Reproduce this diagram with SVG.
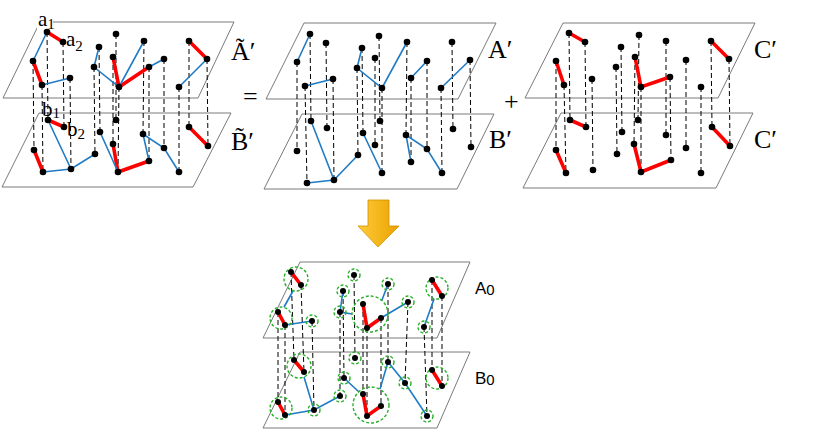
<svg xmlns="http://www.w3.org/2000/svg" width="830" height="431" viewBox="0 0 830 431">
<defs>
<style>
.pl{fill:none;stroke:#7a7a7a;stroke-width:1}
.ds{fill:none;stroke:#000;stroke-width:1;stroke-dasharray:5 3}
.r{stroke:#ff0000;stroke-width:3.6;fill:none}
.b{stroke:#1f7bc6;stroke-width:1.6;fill:none}
.d{fill:#000}
.g{fill:none;stroke:#28b028;stroke-width:1.4;stroke-dasharray:3 2}
.lb{font-family:"Liberation Serif","DejaVu Serif",serif;font-size:26px;fill:#000}
.sm{font-family:"Liberation Serif","DejaVu Serif",serif;font-size:21px;fill:#000}
.ss{font-family:"Liberation Sans",Arial,sans-serif;font-size:17px;fill:#000}
</style>
<linearGradient id="og" x1="0" y1="0" x2="1" y2="0">
<stop offset="0" stop-color="#ffcb3a"/>
<stop offset="1" stop-color="#e9a200"/>
</linearGradient>
</defs>
<rect width="830" height="431" fill="#fff"/>

<!-- planes -->
<g id="plane-At">
<polygon class="pl" points="40,22 234,22 198,98 3,98"/>
<rect x="37" y="12" width="16" height="18" fill="#fff"/>
<text class="lb" x="231" y="60">Ã′</text>
</g>
<g id="plane-Bt">
<polygon class="pl" points="39,113 231,113 193,187 2,187"/>
<text class="lb" x="231" y="150">B&#x303;′</text>
</g>
<g id="plane-A1">
<polygon class="pl" points="304,23 496,23 458,99 266,99"/>
<text class="lb" x="488" y="58">A′</text>
</g>
<g id="plane-B1">
<polygon class="pl" points="302,114 494,114 457,189 264,189"/>
<text class="lb" x="489" y="148">B′</text>
</g>
<g id="plane-C1">
<polygon class="pl" points="563,23 755,23 718,98 525,98"/>
<text class="lb" x="754" y="58">C′</text>
</g>
<g id="plane-C2">
<polygon class="pl" points="561,113 753,113 716,188 523,188"/>
<text class="lb" x="754" y="148">C′</text>
</g>
<g id="plane-A0">
<polygon class="pl" points="300,262 470,262 437,338 263,338"/>
<text class="ss" x="475" y="294">A<tspan font-size="15" dy="1">0</tspan></text>
</g>
<g id="plane-B0">
<polygon class="pl" points="300,352 470,352 437,428 263,428"/>
<text class="ss" x="475" y="384">B<tspan font-size="15" dy="1">0</tspan></text>
</g>

<g id="ops">
<text class="lb" x="243" y="105" font-size="30">=</text>
<text class="lb" x="504" y="110" font-size="36">+</text>
</g>

<g id="labels-ab">
<text class="sm" x="38" y="26">a<tspan font-size="15" dy="3">1</tspan></text>
<text class="sm" x="66" y="46">a<tspan font-size="15" dy="5">2</tspan></text>
<text class="sm" x="42" y="116">b<tspan font-size="15" dy="2">1</tspan></text>
<text class="sm" x="67" y="136">b<tspan font-size="15" dy="3">2</tspan></text>
</g>

<g id="arrow">
<polygon points="368,200 389,200 389,226 399,226 378,247 358,226 368,226" fill="url(#og)" stroke="#d09000" stroke-width="0.8"/>
</g>

<g id="connectors">
<path class="ds" d="M47,32L48,120M63,42L64,127M33,61L34,150M42,85L43,172M70,78L71,169M116,34L116,120M99,47L100,132M94,67L95,154M113,57L113,144M119,87L118,172M144,41L143,134M149,67L149,161M164,59L164,148M189,41L189,127M207,59L208,146M179,87L179,172"/>
<path class="ds" d="M310,34L311,121M326,43L327,128M297,62L297,151M305,86L307,183M333,79L334,180M379,36L380,121M362,48L363,133M357,68L358,155M375,58L375,145M382,88L382,173M407,42L406,135M411,78L411,162M427,61L427,149M452,42L453,129M470,60L471,147M441,88L442,173"/>
<path class="ds" d="M569,33L570,120M585,42L586,127M556,61L556,150M564,85L566,173M592,79L593,170M639,35L638,120M621,47L622,132M616,67L617,154M635,57L634,144M641,87L641,172M666,41L666,135M670,77L671,160M686,60L686,148M711,41L712,127M729,59L730,146M701,87L701,173"/>
<path class="ds" d="M291,272L294,360M301,285L304,372M278,312L278,402M285,325L285,415M312,321L314,410M354,275L355,358M343,291L344,378M340,312L340,396M363,304L363,394M367,328L367,416M388,284L388,362M381,318L381,406M408,302L405,383M432,280L432,370M442,296L442,386M424,327L427,416"/>
<path class="r" d="M47,32L63,42M33,61L42,85M113,57L119,87L149,67M189,41L207,59"/>
<path class="r" d="M48,120L64,127M34,150L43,172M113,144L118,172L149,161M189,127L208,146"/>
<path class="r" d="M569,33L585,42M556,61L564,85M635,57L641,87L670,77M711,41L729,59"/>
<path class="r" d="M570,120L586,127M556,150L566,173M634,144L641,172L671,160M712,127L730,146"/>
<path class="r" d="M291,272L301,285M278,312L285,325M363,304L367,328L381,318M432,280L442,296"/>
<path class="r" d="M294,360L304,372M278,402L285,415M363,394L367,416L381,406M432,370L442,386"/>
<path class="b" d="M47,32L33,61M42,85L70,78M99,47L94,67L119,87L144,41M149,67L164,59M207,59L179,87"/>
<path class="b" d="M48,120L71,169M43,172L71,169L95,154M100,132L118,172M149,161L143,134L164,148L179,172"/>
<path class="b" d="M310,34L297,62M305,86L333,79M362,48L357,68L382,88L407,42M411,78L427,61M470,60L441,88"/>
<path class="b" d="M311,121L334,180M307,183L334,180L358,155M363,133L382,173M411,162L406,135L427,149L442,173"/>
<path class="b" d="M293,291L284,307M285,325L312,321M343,291L340,312L352,314M382,300L388,284M381,318L408,302M434,299L424,327"/>
<path class="b" d="M304,377L314,410M285,415L314,410L340,396M344,378L359,392M380,389L388,362L405,383L427,416"/>
</g>

<g id="nodes-At">
<g id="LT1"><circle class="d" cx="47" cy="32" r="3.3"/></g>
<g id="LT2"><circle class="d" cx="63" cy="42" r="3.3"/></g>
<g id="LT3"><circle class="d" cx="33" cy="61" r="3.3"/></g>
<g id="LT4"><circle class="d" cx="42" cy="85" r="3.3"/></g>
<g id="LT5"><circle class="d" cx="70" cy="78" r="3.3"/></g>
<g id="LT6"><circle class="d" cx="116" cy="34" r="3.3"/></g>
<g id="LT7"><circle class="d" cx="99" cy="47" r="3.3"/></g>
<g id="LT8"><circle class="d" cx="94" cy="67" r="3.3"/></g>
<g id="LT9"><circle class="d" cx="113" cy="57" r="3.3"/></g>
<g id="LT10"><circle class="d" cx="119" cy="87" r="3.3"/></g>
<g id="LT11"><circle class="d" cx="144" cy="41" r="3.3"/></g>
<g id="LT12"><circle class="d" cx="149" cy="67" r="3.3"/></g>
<g id="LT13"><circle class="d" cx="164" cy="59" r="3.3"/></g>
<g id="LT14"><circle class="d" cx="189" cy="41" r="3.3"/></g>
<g id="LT15"><circle class="d" cx="207" cy="59" r="3.3"/></g>
<g id="LT16"><circle class="d" cx="179" cy="87" r="3.3"/></g>
</g>
<g id="nodes-Bt">
<g id="LB1"><circle class="d" cx="48" cy="120" r="3.3"/></g>
<g id="LB2"><circle class="d" cx="64" cy="127" r="3.3"/></g>
<g id="LB3"><circle class="d" cx="34" cy="150" r="3.3"/></g>
<g id="LB4"><circle class="d" cx="43" cy="172" r="3.3"/></g>
<g id="LB5"><circle class="d" cx="71" cy="169" r="3.3"/></g>
<g id="LB6"><circle class="d" cx="116" cy="120" r="3.3"/></g>
<g id="LB7"><circle class="d" cx="100" cy="132" r="3.3"/></g>
<g id="LB8"><circle class="d" cx="95" cy="154" r="3.3"/></g>
<g id="LB9"><circle class="d" cx="113" cy="144" r="3.3"/></g>
<g id="LB10"><circle class="d" cx="118" cy="172" r="3.3"/></g>
<g id="LB11"><circle class="d" cx="143" cy="134" r="3.3"/></g>
<g id="LB12"><circle class="d" cx="149" cy="161" r="3.3"/></g>
<g id="LB13"><circle class="d" cx="164" cy="148" r="3.3"/></g>
<g id="LB14"><circle class="d" cx="189" cy="127" r="3.3"/></g>
<g id="LB15"><circle class="d" cx="208" cy="146" r="3.3"/></g>
<g id="LB16"><circle class="d" cx="179" cy="172" r="3.3"/></g>
</g>
<g id="nodes-A1">
<g id="MT1"><circle class="d" cx="310" cy="34" r="3.3"/></g>
<g id="MT2"><circle class="d" cx="326" cy="43" r="3.3"/></g>
<g id="MT3"><circle class="d" cx="297" cy="62" r="3.3"/></g>
<g id="MT4"><circle class="d" cx="305" cy="86" r="3.3"/></g>
<g id="MT5"><circle class="d" cx="333" cy="79" r="3.3"/></g>
<g id="MT6"><circle class="d" cx="379" cy="36" r="3.3"/></g>
<g id="MT7"><circle class="d" cx="362" cy="48" r="3.3"/></g>
<g id="MT8"><circle class="d" cx="357" cy="68" r="3.3"/></g>
<g id="MT9"><circle class="d" cx="375" cy="58" r="3.3"/></g>
<g id="MT10"><circle class="d" cx="382" cy="88" r="3.3"/></g>
<g id="MT11"><circle class="d" cx="407" cy="42" r="3.3"/></g>
<g id="MT12"><circle class="d" cx="411" cy="78" r="3.3"/></g>
<g id="MT13"><circle class="d" cx="427" cy="61" r="3.3"/></g>
<g id="MT14"><circle class="d" cx="452" cy="42" r="3.3"/></g>
<g id="MT15"><circle class="d" cx="470" cy="60" r="3.3"/></g>
<g id="MT16"><circle class="d" cx="441" cy="88" r="3.3"/></g>
</g>
<g id="nodes-B1">
<g id="MB1"><circle class="d" cx="311" cy="121" r="3.3"/></g>
<g id="MB2"><circle class="d" cx="327" cy="128" r="3.3"/></g>
<g id="MB3"><circle class="d" cx="297" cy="151" r="3.3"/></g>
<g id="MB4"><circle class="d" cx="307" cy="183" r="3.3"/></g>
<g id="MB5"><circle class="d" cx="334" cy="180" r="3.3"/></g>
<g id="MB6"><circle class="d" cx="380" cy="121" r="3.3"/></g>
<g id="MB7"><circle class="d" cx="363" cy="133" r="3.3"/></g>
<g id="MB8"><circle class="d" cx="358" cy="155" r="3.3"/></g>
<g id="MB9"><circle class="d" cx="375" cy="145" r="3.3"/></g>
<g id="MB10"><circle class="d" cx="382" cy="173" r="3.3"/></g>
<g id="MB11"><circle class="d" cx="406" cy="135" r="3.3"/></g>
<g id="MB12"><circle class="d" cx="411" cy="162" r="3.3"/></g>
<g id="MB13"><circle class="d" cx="427" cy="149" r="3.3"/></g>
<g id="MB14"><circle class="d" cx="453" cy="129" r="3.3"/></g>
<g id="MB15"><circle class="d" cx="471" cy="147" r="3.3"/></g>
<g id="MB16"><circle class="d" cx="442" cy="173" r="3.3"/></g>
</g>
<g id="nodes-C1">
<g id="RT1"><circle class="d" cx="569" cy="33" r="3.3"/></g>
<g id="RT2"><circle class="d" cx="585" cy="42" r="3.3"/></g>
<g id="RT3"><circle class="d" cx="556" cy="61" r="3.3"/></g>
<g id="RT4"><circle class="d" cx="564" cy="85" r="3.3"/></g>
<g id="RT5"><circle class="d" cx="592" cy="79" r="3.3"/></g>
<g id="RT6"><circle class="d" cx="639" cy="35" r="3.3"/></g>
<g id="RT7"><circle class="d" cx="621" cy="47" r="3.3"/></g>
<g id="RT8"><circle class="d" cx="616" cy="67" r="3.3"/></g>
<g id="RT9"><circle class="d" cx="635" cy="57" r="3.3"/></g>
<g id="RT10"><circle class="d" cx="641" cy="87" r="3.3"/></g>
<g id="RT11"><circle class="d" cx="666" cy="41" r="3.3"/></g>
<g id="RT12"><circle class="d" cx="670" cy="77" r="3.3"/></g>
<g id="RT13"><circle class="d" cx="686" cy="60" r="3.3"/></g>
<g id="RT14"><circle class="d" cx="711" cy="41" r="3.3"/></g>
<g id="RT15"><circle class="d" cx="729" cy="59" r="3.3"/></g>
<g id="RT16"><circle class="d" cx="701" cy="87" r="3.3"/></g>
</g>
<g id="nodes-C2">
<g id="RB1"><circle class="d" cx="570" cy="120" r="3.3"/></g>
<g id="RB2"><circle class="d" cx="586" cy="127" r="3.3"/></g>
<g id="RB3"><circle class="d" cx="556" cy="150" r="3.3"/></g>
<g id="RB4"><circle class="d" cx="566" cy="173" r="3.3"/></g>
<g id="RB5"><circle class="d" cx="593" cy="170" r="3.3"/></g>
<g id="RB6"><circle class="d" cx="638" cy="120" r="3.3"/></g>
<g id="RB7"><circle class="d" cx="622" cy="132" r="3.3"/></g>
<g id="RB8"><circle class="d" cx="617" cy="154" r="3.3"/></g>
<g id="RB9"><circle class="d" cx="634" cy="144" r="3.3"/></g>
<g id="RB10"><circle class="d" cx="641" cy="172" r="3.3"/></g>
<g id="RB11"><circle class="d" cx="666" cy="135" r="3.3"/></g>
<g id="RB12"><circle class="d" cx="671" cy="160" r="3.3"/></g>
<g id="RB13"><circle class="d" cx="686" cy="148" r="3.3"/></g>
<g id="RB14"><circle class="d" cx="712" cy="127" r="3.3"/></g>
<g id="RB15"><circle class="d" cx="730" cy="146" r="3.3"/></g>
<g id="RB16"><circle class="d" cx="701" cy="173" r="3.3"/></g>
</g>
<g id="nodes-A0">
<g id="A0-X1"><circle class="g" cx="296" cy="279" r="12"/><circle class="d" cx="291" cy="272" r="3"/><circle class="d" cx="301" cy="285" r="3"/></g>
<g id="A0-X2"><circle class="g" cx="281" cy="318" r="11"/><circle class="d" cx="278" cy="312" r="3"/><circle class="d" cx="285" cy="325" r="3"/></g>
<g id="A0-n5"><circle class="g" cx="312" cy="321" r="6"/><circle class="d" cx="312" cy="321" r="3"/></g>
<g id="A0-n6"><circle class="g" cx="354" cy="275" r="6"/><circle class="d" cx="354" cy="275" r="3"/></g>
<g id="A0-n7"><circle class="g" cx="343" cy="291" r="6"/><circle class="d" cx="343" cy="291" r="3"/></g>
<g id="A0-n8"><circle class="g" cx="340" cy="312" r="6"/><circle class="d" cx="340" cy="312" r="3"/></g>
<g id="A0-X3"><circle class="g" cx="370" cy="314" r="18"/><circle class="d" cx="363" cy="304" r="3"/><circle class="d" cx="367" cy="328" r="3"/><circle class="d" cx="381" cy="318" r="3"/></g>
<g id="A0-n11"><circle class="g" cx="388" cy="284" r="6"/><circle class="d" cx="388" cy="284" r="3"/></g>
<g id="A0-n13"><circle class="g" cx="408" cy="302" r="6"/><circle class="d" cx="408" cy="302" r="3"/></g>
<g id="A0-X4"><circle class="g" cx="437" cy="288" r="11"/><circle class="d" cx="432" cy="280" r="3"/><circle class="d" cx="442" cy="296" r="3"/></g>
<g id="A0-n16"><circle class="g" cx="424" cy="327" r="6"/><circle class="d" cx="424" cy="327" r="3"/></g>
</g>
<g id="nodes-B0">
<g id="B0-Y1"><circle class="g" cx="299" cy="366" r="12"/><circle class="d" cx="294" cy="360" r="3"/><circle class="d" cx="304" cy="372" r="3"/></g>
<g id="B0-Y2"><circle class="g" cx="281" cy="408" r="11"/><circle class="d" cx="278" cy="402" r="3"/><circle class="d" cx="285" cy="415" r="3"/></g>
<g id="B0-n5"><circle class="g" cx="314" cy="410" r="6"/><circle class="d" cx="314" cy="410" r="3"/></g>
<g id="B0-n6"><circle class="g" cx="355" cy="358" r="6"/><circle class="d" cx="355" cy="358" r="3"/></g>
<g id="B0-n7"><circle class="g" cx="344" cy="378" r="6"/><circle class="d" cx="344" cy="378" r="3"/></g>
<g id="B0-n8"><circle class="g" cx="340" cy="396" r="6"/><circle class="d" cx="340" cy="396" r="3"/></g>
<g id="B0-Y3"><circle class="g" cx="371" cy="405" r="18"/><circle class="d" cx="363" cy="394" r="3"/><circle class="d" cx="367" cy="416" r="3"/><circle class="d" cx="381" cy="406" r="3"/></g>
<g id="B0-n11"><circle class="g" cx="388" cy="362" r="6"/><circle class="d" cx="388" cy="362" r="3"/></g>
<g id="B0-n13"><circle class="g" cx="405" cy="383" r="6"/><circle class="d" cx="405" cy="383" r="3"/></g>
<g id="B0-Y4"><circle class="g" cx="437" cy="378" r="11"/><circle class="d" cx="432" cy="370" r="3"/><circle class="d" cx="442" cy="386" r="3"/></g>
<g id="B0-n16"><circle class="g" cx="427" cy="416" r="6"/><circle class="d" cx="427" cy="416" r="3"/></g>
</g>
</svg>
